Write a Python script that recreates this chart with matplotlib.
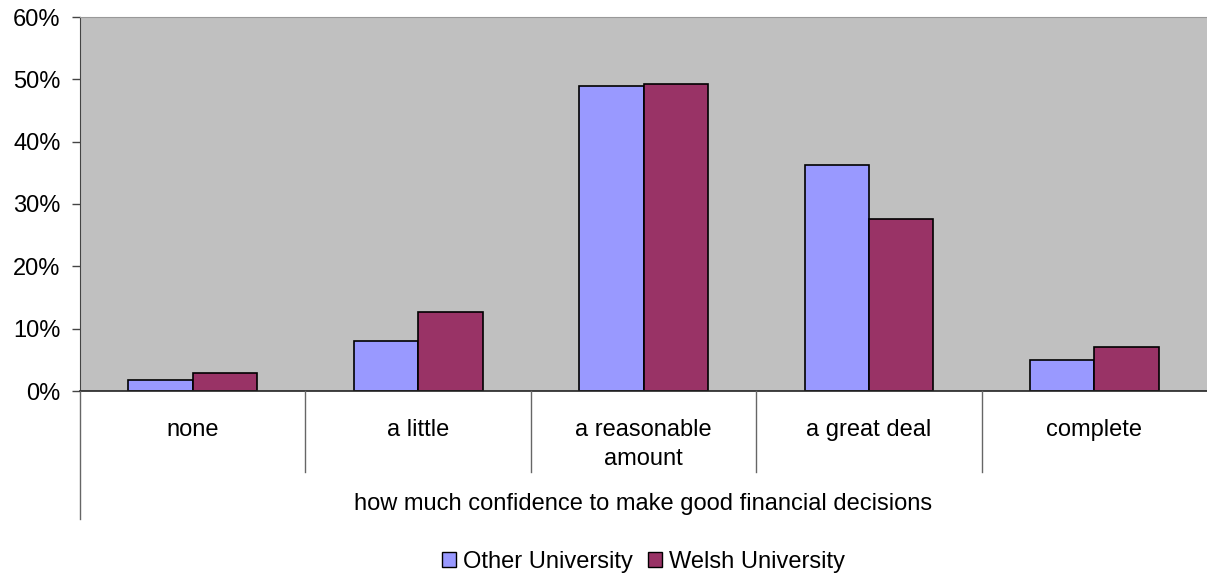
import matplotlib
matplotlib.use("Agg")
import matplotlib.pyplot as plt
import matplotlib.patches as mpatches
from matplotlib.lines import Line2D
from matplotlib.ticker import FuncFormatter
import numpy as np

plt.rcParams['font.family'] = ['Liberation Sans', 'DejaVu Sans']

categories = ["none", "a little", "a reasonable\namount", "a great deal", "complete"]
other_uni = [1.7, 8.1, 48.9, 36.2, 4.9]
welsh_uni = [2.9, 12.7, 49.2, 27.6, 7.1]
series_names = ["Other University", "Welsh University"]
colors = ["#9999FF", "#993366"]
x_title = "how much confidence to make good financial decisions"

FS = 17
W, H = 1207, 576
fig = plt.figure(figsize=(W / 100, H / 100), dpi=100)
ax = fig.add_axes([80 / W, (H - 391) / H, (W - 80) / W, (391 - 17) / H])
ax.set_facecolor("#C0C0C0")

x = np.arange(len(categories))
bw = 1 / 3.5
ax.bar(x - bw / 2, other_uni, bw, color=colors[0], edgecolor="black", linewidth=1.2)
ax.bar(x + bw / 2, welsh_uni, bw, color=colors[1], edgecolor="black", linewidth=1.2)

ax.set_xlim(-0.5, len(categories) - 0.5)
ax.set_ylim(0, 60)
ax.set_yticks(range(0, 61, 10))
ax.yaxis.set_major_formatter(FuncFormatter(lambda v, p: f"{v:.0f}%"))
ax.tick_params(axis="y", labelsize=FS, length=6, width=1, color="#444444", pad=8)

ax.set_xticks(x)
ax.set_xticklabels(categories, fontsize=FS, linespacing=1.45, va="top")
ax.tick_params(axis="x", length=0, pad=20)

ax.spines["top"].set_color("#999999")
ax.spines["right"].set_visible(False)
ax.spines["left"].set_color("#444444")
ax.spines["bottom"].set_color("#222222")
ax.spines["bottom"].set_linewidth(1.2)

# category separators below the axis
sep_y = (H - 472) / H
for b in np.arange(0.5, len(categories) - 0.5, 1.0):
    xf = ax.transData.transform((b, 0))[0] / W
    fig.add_artist(Line2D([xf, xf], [(H - 391) / H, sep_y], color="#666666", linewidth=1))
fig.add_artist(Line2D([80 / W, 80 / W], [(H - 391) / H, (H - 519) / H], color="#666666", linewidth=1))

fig.text((80 + W) / 2 / W, 1 - 504 / H, x_title, ha="center", va="center", fontsize=FS)

handles = [mpatches.Patch(facecolor=c, edgecolor="black", label=n) for c, n in zip(colors, series_names)]
fig.legend(handles=handles, loc="center", bbox_to_anchor=((80 + W) / 2 / W, 1 - 562 / H),
           ncol=2, frameon=False, fontsize=FS, handlelength=0.6, handleheight=0.6,
           handletextpad=0.3, columnspacing=0.6)

fig.savefig("out.png", dpi=100)
